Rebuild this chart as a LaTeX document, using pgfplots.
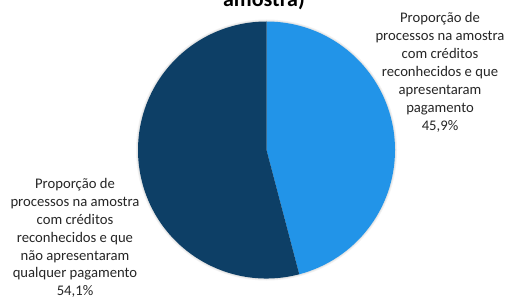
\documentclass[border=0pt]{standalone}
\usepackage{fontspec}
\setmainfont{Carlito}
\usepackage{pgfplots}
\usepackage{pgfplotstable}
\pgfplotsset{compat=1.18}
\definecolor{lightblue}{HTML}{2294E8}
\definecolor{darkblue}{HTML}{0D3F66}
\pgfplotstableread{
label value
pagamento 45.9
semPagamento 54.1
}\piedata
\begin{document}
\begin{tikzpicture}[x=1bp,y=1bp]
\pgfplotstablegetelem{0}{value}\of\piedata
\pgfmathsetmacro{\va}{\pgfplotsretval}
\pgfplotstablegetelem{1}{value}\of\piedata
\pgfmathsetmacro{\vb}{\pgfplotsretval}
\pgfmathsetmacro{\angA}{90-3.6*\va}
\pgfmathsetmacro{\angB}{\angA-3.6*\vb}
\begin{axis}[at={(266.5bp,148bp)}, anchor=origin,
  width=257bp, height=257bp, scale only axis, hide axis,
  xmin=-1, xmax=1, ymin=-1, ymax=1, clip=false]
  \fill[black, opacity=0.05] (axis cs:0,0) circle[radius=130.5bp];
  \fill[black, opacity=0.06] (axis cs:0,0) circle[radius=129.5bp];
  \fill[lightblue] (axis cs:0,0) -- (axis cs:0,1) arc[start angle=90, end angle=\angA, radius=128.5bp] -- cycle;
  \fill[darkblue] (axis cs:0,0) -- (axis cs:{cos(\angA)},{sin(\angA)}) arc[start angle=\angA, end angle=\angB, radius=128.5bp] -- cycle;
\end{axis}
\node[anchor=base, font=\fontsize{22bp}{26bp}\selectfont\bfseries] at (264,292) {amostra)};
\node[align=center, font=\fontsize{14.67bp}{17.9bp}\selectfont, text=black!85] at (440,225.5)
  {Proporção de\\processos na amostra\\com créditos\\reconhecidos e que\\apresentaram\\pagamento\\45,9\%};
\node[align=center, font=\fontsize{14.67bp}{17.9bp}\selectfont, text=black!85] at (75,60)
  {Proporção de\\processos na amostra\\com créditos\\reconhecidos e que\\não apresentaram\\qualquer pagamento\\54,1\%};
\pgfresetboundingbox
\path[use as bounding box] (0,0) rectangle (505,298);
\end{tikzpicture}
\end{document}
